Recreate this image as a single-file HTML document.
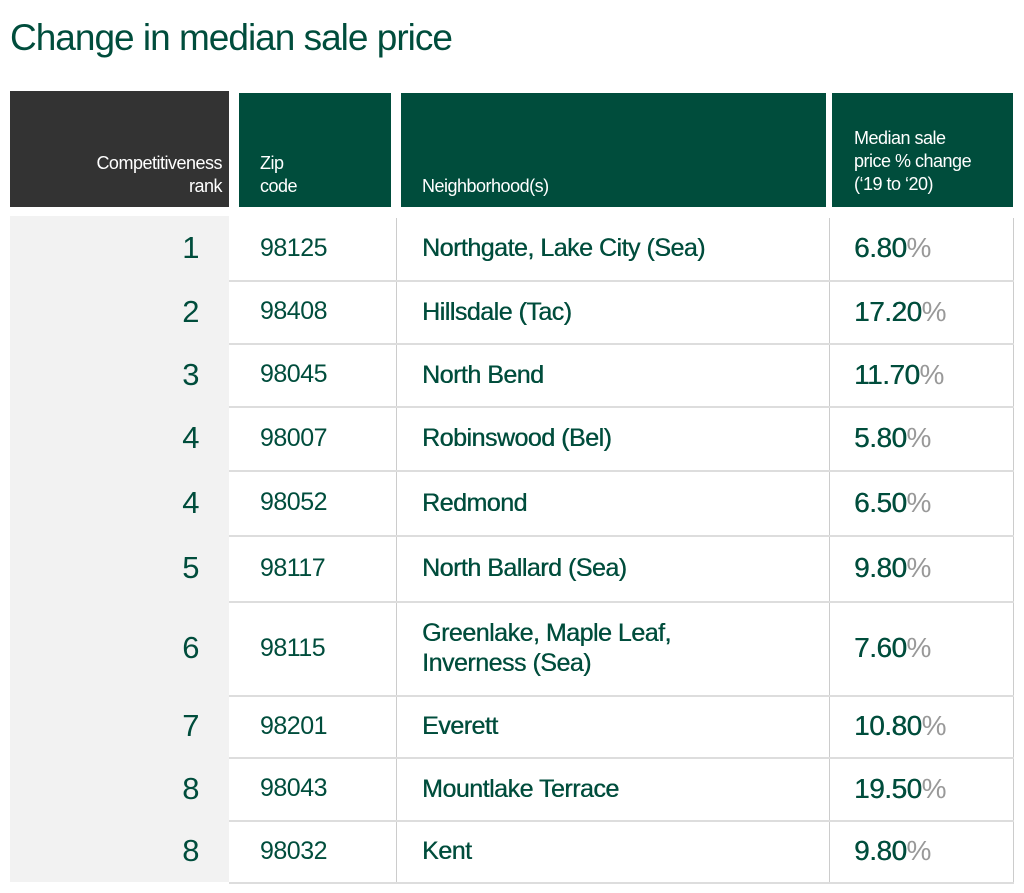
<!DOCTYPE html>
<html><head><meta charset="utf-8">
<style>
body{margin:0;width:1024px;height:893px;background:#fff;font-family:"Liberation Sans",sans-serif;position:relative;overflow:hidden}
.a{position:absolute}
.h{color:#fff;font-size:18px;line-height:23px;letter-spacing:-0.5px}
.t{color:#004d3c;letter-spacing:-0.5px}
.pc{color:#999}
.lt{font-weight:normal}
</style></head><body>
<div class="a t" style="left:10px;top:14px;font-size:37px;line-height:48px;letter-spacing:-1px">Change in median sale price</div>
<div class="a" style="left:10px;top:91px;width:219px;height:116px;background:#333"></div>
<div class="a h" style="left:10px;top:152px;width:212px;text-align:right">Competitiveness<br>rank</div>
<div class="a" style="left:239px;top:93px;width:152px;height:114px;background:#004d3c"></div>
<div class="a h" style="left:260px;top:152px">Zip<br>code</div>
<div class="a" style="left:401px;top:93px;width:425px;height:114px;background:#004d3c"></div>
<div class="a h" style="left:422px;top:175px">Neighborhood(s)</div>
<div class="a" style="left:832px;top:93px;width:181px;height:114px;background:#004d3c"></div>
<div class="a h" style="left:854px;top:127px">Median sale<br>price % change<br>(‘19 to ‘20)</div>
<div class="a" style="left:10px;top:216px;width:219px;height:666px;background:#f2f2f2"></div>
<div class="a" style="left:396px;top:218px;width:1px;height:664px;background:#ccc"></div>
<div class="a" style="left:829px;top:218px;width:1px;height:664px;background:#ccc"></div>
<div class="a" style="left:1013px;top:218px;width:1px;height:664px;background:#ccc"></div>
<div id="rows"></div>
<script>
const ranks=["1","2","3","4","4","5","6","7","8","8"];
const zips=["98125","98408","98045","98007","98052","98117","98115","98201","98043","98032"];
const names=["Northgate, Lake City","Hillsdale","North Bend","Robinswood","Redmond","North Ballard","Greenlake, Maple Leaf,<br>Inverness","Everett","Mountlake Terrace","Kent"];
const suffix=[" (Sea)"," (Tac)",""," (Bel)",""," (Sea)"," (Sea)","","",""];
const changes=["6.80","17.20","11.70","5.80","6.50","9.80","7.60","10.80","19.50","9.80"];
const bounds=[216,280,343,406,470,535,601,695,757,820,882];
const root=document.getElementById('rows');
function mk(name,css,html){const d=document.createElement('div');d.className='a t';d.style.cssText=css;d.innerHTML=html;


root.appendChild(d);return d;}
ranks.forEach((r,i)=>{
 const y0=bounds[i],y1=bounds[i+1],h=y1-y0;
 mk('rank-'+(i+1),`left:10px;top:${y0}px;width:189px;height:${h}px;display:flex;align-items:center;justify-content:flex-end;font-size:31px`,r);
 mk('zip-'+(i+1),`left:260px;top:${y0}px;height:${h}px;display:flex;align-items:center;font-size:25px`,zips[i]);
 mk('neighborhood-'+(i+1),`left:422px;top:${y0}px;height:${h}px;display:flex;align-items:center;font-size:25px;line-height:30px;font-weight:bold;-webkit-text-stroke:0`,`<span style="font-weight:normal;text-shadow:0.4px 0 0 #004d3c">${names[i]}<span>${suffix[i]}</span></span>`);
 mk('change-'+(i+1),`left:854px;top:${y0}px;height:${h}px;display:flex;align-items:center;font-size:28px;text-shadow:0.4px 0 0 #004d3c`,changes[i]+'<span class="pc" style="text-shadow:none">%</span>');
 const l=mk('row-line-'+(i+1),`left:229px;top:${y1}px;width:785px;height:2px;background:#ddd`,'');
});
</script>
</body></html>
